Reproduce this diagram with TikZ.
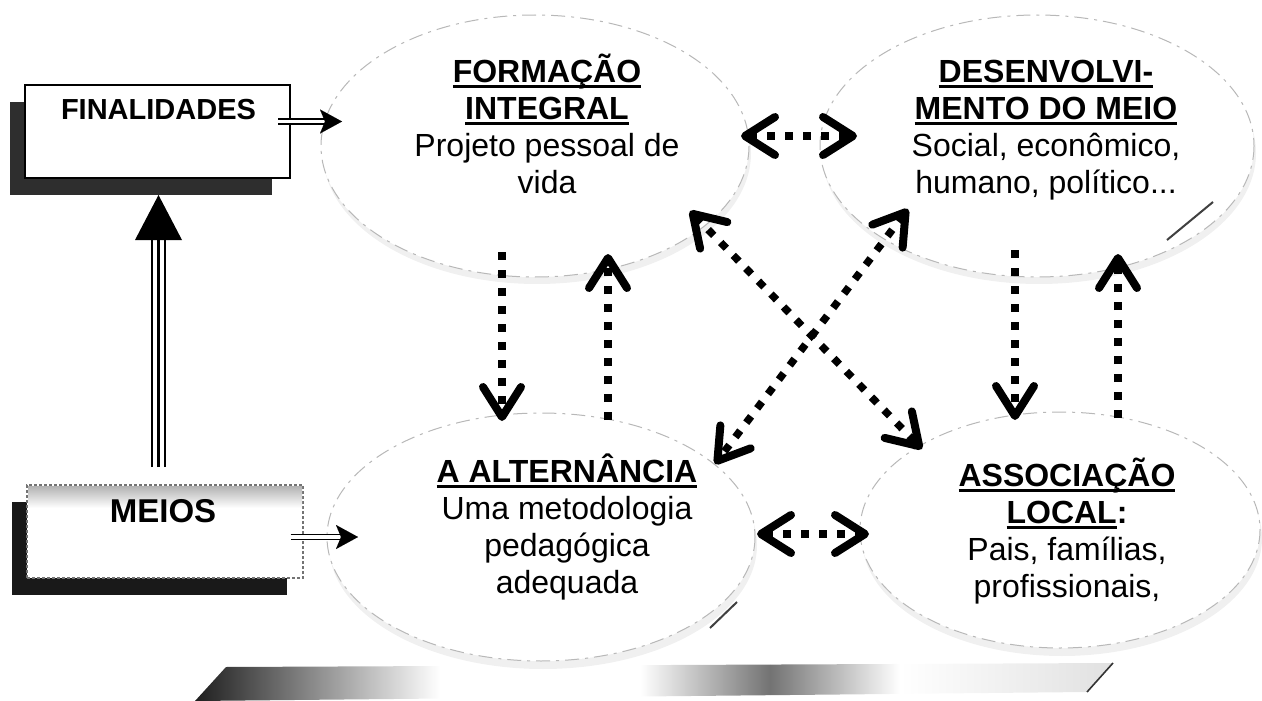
\documentclass[tikz,border=0pt]{standalone}
\usepackage{fontspec}
\setmainfont{Liberation Sans}
\usetikzlibrary{arrows.meta,calc}
\newcommand\myul[1]{\setbox0\hbox{#1}\rlap{\rule[-5.5pt]{\wd0}{2.8pt}}\box0}
\begin{document}
\begin{tikzpicture}[x=1pt,y=-1pt,
  chev/.tip={Straight Barb[length=30pt,width=38pt,line width=8pt,round]},
  dots/.style={line width=7.5pt,dash pattern=on 8pt off 10pt,line cap=butt},
  ell/.style={fill=white,draw=black!28,line width=1pt,dash pattern=on 14pt off 6pt on 3pt off 6pt},
  ellsh/.style={fill=black!6},
  lab/.style={align=center,font=\fontsize{32}{37}\selectfont,inner sep=0pt,anchor=base},
  dbl/.style={line width=1.6pt,double distance=3.5pt,double=white},
  head/.style={line width=0.01pt,-{Stealth[length=22pt,width=24pt,inset=5pt]}}
]
\useasboundingbox (0,0) rectangle (1262,701);
% platform
\begin{scope}
\clip (195,701) -- (226,667) -- (1113,663) -- (1087,692) -- cycle;
\shade[left color=black!90,right color=white] (190,660) rectangle (440,705);
\shade[left color=white,right color=black!55] (640,660) rectangle (770,705);
\shade[left color=black!55,right color=white] (770,660) rectangle (900,705);
\shade[left color=white,right color=black!12] (900,660) rectangle (1115,705);
\end{scope}
\draw[black!80,line width=1.6pt] (1087,692) -- (1113,663);
% ellipse shadows
\fill[ellsh] (537,153) ellipse [x radius=214,y radius=131];
\fill[ellsh] (1039,153) ellipse [x radius=217,y radius=131];
\fill[ellsh] (543,545) ellipse [x radius=214,y radius=124];
\fill[ellsh] (1062,538) ellipse [x radius=200,y radius=118];
% ellipses
\draw[ell] (535,146) ellipse [x radius=214,y radius=131];
\draw[ell] (1037,146) ellipse [x radius=217,y radius=131];
\draw[ell] (541,537) ellipse [x radius=214,y radius=124];
\draw[ell] (1060,530) ellipse [x radius=200,y radius=118];
\draw[black!75,line width=2pt] (1213,202) -- (1167,240);
\draw[black!75,line width=2pt] (737,602) -- (710,628);
% boxes
\fill[black!82] (10,102) rectangle (272,195);
\node[draw,line width=2pt,fill=white,minimum width=265pt,minimum height=93pt,inner sep=0pt] (fin) at (157.5,131.5) {};
\node[font=\bfseries\fontsize{29}{34}\selectfont,anchor=base,inner sep=0pt] (finl) at (158.5,120) {FINALIDADES};
\fill[black!90] (12,502) rectangle (287,595);
\node[draw=black!55,densely dashed,line width=1.2pt,fill=white,minimum width=276pt,minimum height=93pt,inner sep=0pt] (meios) at (165,531.5) {};
\shade[top color=black!30,bottom color=white] (28,486) rectangle (302,508);
\node[font=\bfseries\fontsize{33}{38}\selectfont,anchor=base,inner sep=0pt] (meiosl) at (163,522) {MEIOS};
% texts (base = last line)
\node[lab] (form) at (547,193) {\textbf{\myul{FORMAÇÃO}}\\\textbf{\myul{INTEGRAL}}\\Projeto pessoal de\\vida};
\node[lab] (desv) at (1046,193) {\textbf{\myul{DESENVOLVI-}}\\\textbf{\myul{MENTO DO MEIO}}\\Social, econômico,\\humano, político...};
\node[lab] (alt) at (567,593) {\textbf{\myul{A ALTERNÂNCIA}}\\Uma metodologia\\pedagógica\\adequada};
\node[lab] (assoc) at (1067,597) {\textbf{\myul{ASSOCIAÇÃO}}\\\textbf{\myul{LOCAL}:}\\Pais, famílias,\\profissionais,};
% arrow end points
\coordinate (fa0) at (332,121.5);
\coordinate (fa) at (342,121.5);
\coordinate (ma0) at (348,537);
\coordinate (ma) at (358,537);
\coordinate (h1a) at (741,136); \coordinate (h1b) at (857,136);
\coordinate (h2a) at (757,534); \coordinate (h2b) at (869,534);
\coordinate (v1a) at (502,252); \coordinate (v1b) at (502,421);
\coordinate (v2a) at (608,420); \coordinate (v2b) at (608,254);
\coordinate (v3a) at (1015,250); \coordinate (v3b) at (1015,420);
\coordinate (v4a) at (1118,418); \coordinate (v4b) at (1118,254);
\coordinate (d1a) at (690,211); \coordinate (d1b) at (922,449);
\coordinate (d2a) at (908,209); \coordinate (d2b) at (715,464);
\coordinate (tb) at (158.5,467); \coordinate (tt) at (158.5,195);
% double arrows
\draw[dbl] ($(fin.east)+(-13,-10)$) -- ($(fa)+(-16,0)$);
\draw[head] (fa0) -- (fa);
\draw[dbl] ($(meios.east)+(-13,5.5)$) -- ($(ma)+(-18,0)$);
\draw[head] (ma0) -- (ma);
% triple arrow
\foreach \dx in {-6.5,0,6.5}
  \draw[line width=2.6pt] ([xshift=\dx pt]tb) -- ([xshift=\dx pt]tt |- 0,240);
\fill (tt) -- ($(tt)+(-23.5,45)$) -- ($(tt)+(23.5,45)$) -- cycle;
% dotted arrows
\draw[dots,chev-chev] (h1a) -- (h1b);
\draw[dots,chev-chev] (h2a) -- (h2b);
\draw[dots,-chev] (v1a) -- (v1b);
\draw[dots,-chev] (v2a) -- (v2b);
\draw[dots,-chev] (v3a) -- (v3b);
\draw[dots,-chev] (v4a) -- (v4b);
\draw[dots,chev-chev] (d1a) -- (d1b);
\draw[dots,chev-chev] (d2a) -- (d2b);
\end{tikzpicture}
\end{document}
